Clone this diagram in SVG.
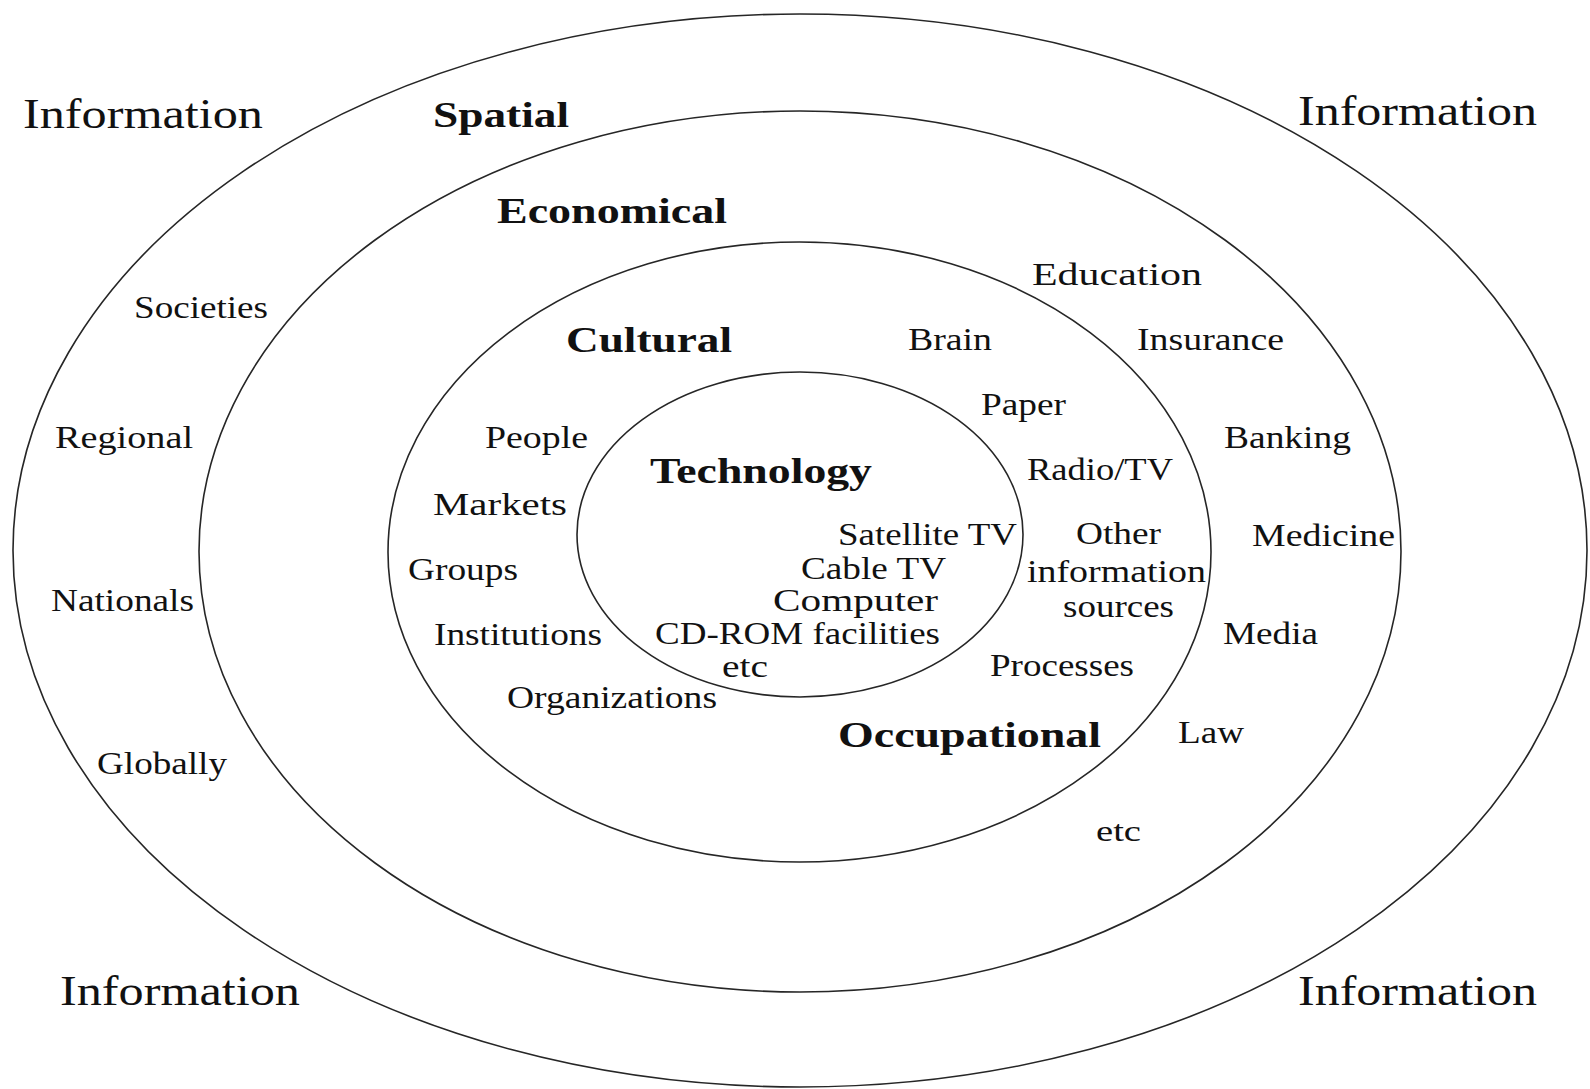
<svg xmlns="http://www.w3.org/2000/svg" width="1590" height="1089" viewBox="0 0 1590 1089">
<style>
.ring{fill:none;stroke:#262626;stroke-width:1.6}
text{font-family:"Liberation Serif","Times New Roman",serif;fill:#111}
.big{font-size:42px}
.hd{font-size:35px;font-weight:bold}
.it{font-size:32px}
.sm{font-size:30px}
</style>
<rect width="1590" height="1089" fill="#fff"/>
<g id="connectors"></g>
<g id="ring-spatial"><ellipse class="ring" cx="800" cy="550.5" rx="787" ry="536.5"/></g>
<g id="ring-economical"><ellipse class="ring" cx="800" cy="551.5" rx="601" ry="440.5"/></g>
<g id="ring-cultural"><ellipse class="ring" cx="799.5" cy="552" rx="411.5" ry="310"/></g>
<g id="ring-technology"><ellipse class="ring" cx="800" cy="534.5" rx="223" ry="162.5"/></g>
<g id="corners">
<text class="big" x="23" y="128" textLength="240" lengthAdjust="spacingAndGlyphs">Information</text>
<text class="big" x="1298" y="125" textLength="239" lengthAdjust="spacingAndGlyphs">Information</text>
<text class="big" x="60" y="1005" textLength="240" lengthAdjust="spacingAndGlyphs">Information</text>
<text class="big" x="1298" y="1005" textLength="239" lengthAdjust="spacingAndGlyphs">Information</text>
</g>
<g id="headings">
<text class="hd" x="433" y="127" textLength="136" lengthAdjust="spacingAndGlyphs">Spatial</text>
<text class="hd" x="497" y="223" textLength="230" lengthAdjust="spacingAndGlyphs">Economical</text>
<text class="hd" x="566" y="352" textLength="166" lengthAdjust="spacingAndGlyphs">Cultural</text>
<text class="hd" x="650" y="483" textLength="222" lengthAdjust="spacingAndGlyphs">Technology</text>
<text class="hd" x="838" y="747" textLength="263" lengthAdjust="spacingAndGlyphs">Occupational</text>
</g>
<g id="spatial-items">
<text class="it" x="134" y="318" textLength="134" lengthAdjust="spacingAndGlyphs">Societies</text>
<text class="it" x="55" y="448" textLength="138" lengthAdjust="spacingAndGlyphs">Regional</text>
<text class="it" x="51" y="611" textLength="143" lengthAdjust="spacingAndGlyphs">Nationals</text>
<text class="it" x="97" y="774" textLength="130" lengthAdjust="spacingAndGlyphs">Globally</text>
</g>
<g id="economical-items">
<text class="it" x="1032" y="285" textLength="170" lengthAdjust="spacingAndGlyphs">Education</text>
<text class="it" x="1137" y="350" textLength="147" lengthAdjust="spacingAndGlyphs">Insurance</text>
<text class="it" x="1224" y="448" textLength="127" lengthAdjust="spacingAndGlyphs">Banking</text>
<text class="it" x="1252" y="546" textLength="143" lengthAdjust="spacingAndGlyphs">Medicine</text>
<text class="it" x="1223" y="644" textLength="95" lengthAdjust="spacingAndGlyphs">Media</text>
<text class="it" x="1178" y="743" textLength="66" lengthAdjust="spacingAndGlyphs">Law</text>
<text class="sm" x="1096" y="841" textLength="45" lengthAdjust="spacingAndGlyphs">etc</text>
</g>
<g id="cultural-items">
<text class="it" x="485" y="448" textLength="103" lengthAdjust="spacingAndGlyphs">People</text>
<text class="it" x="433" y="515" textLength="134" lengthAdjust="spacingAndGlyphs">Markets</text>
<text class="it" x="408" y="580" textLength="110" lengthAdjust="spacingAndGlyphs">Groups</text>
<text class="it" x="434" y="645" textLength="168" lengthAdjust="spacingAndGlyphs">Institutions</text>
<text class="it" x="507" y="708" textLength="210" lengthAdjust="spacingAndGlyphs">Organizations</text>
<text class="it" x="908" y="350" textLength="84" lengthAdjust="spacingAndGlyphs">Brain</text>
<text class="it" x="981" y="415" textLength="85" lengthAdjust="spacingAndGlyphs">Paper</text>
<text class="it" x="1027" y="480" textLength="146" lengthAdjust="spacingAndGlyphs">Radio/TV</text>
<text class="it" x="1076" y="544" textLength="85" lengthAdjust="spacingAndGlyphs">Other</text>
<text class="it" x="1027" y="582" textLength="179" lengthAdjust="spacingAndGlyphs">information</text>
<text class="it" x="1063" y="617" textLength="111" lengthAdjust="spacingAndGlyphs">sources</text>
<text class="it" x="990" y="676" textLength="144" lengthAdjust="spacingAndGlyphs">Processes</text>
</g>
<g id="technology-items">
<text class="it" x="838" y="545" textLength="179" lengthAdjust="spacingAndGlyphs">Satellite TV</text>
<text class="it" x="801" y="579" textLength="145" lengthAdjust="spacingAndGlyphs">Cable TV</text>
<text class="it" x="773" y="611" textLength="165" lengthAdjust="spacingAndGlyphs">Computer</text>
<text class="it" x="655" y="644" textLength="285" lengthAdjust="spacingAndGlyphs">CD-ROM facilities</text>
<text class="it" x="722" y="677" textLength="46" lengthAdjust="spacingAndGlyphs">etc</text>
</g>
</svg>
